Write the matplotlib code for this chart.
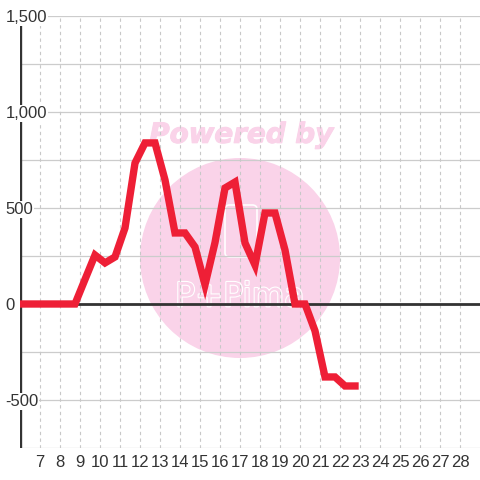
import matplotlib
matplotlib.use("Agg")
from matplotlib import pyplot as plt
from matplotlib.patches import Ellipse, FancyBboxPatch
import matplotlib.patheffects as pe

# data
days = [5.75, 6.25, 6.75, 7.25, 7.75, 8.25, 8.75, 9.25, 9.75, 10.25, 10.75,
        11.25, 11.75, 12.25, 12.75, 13.25, 13.75, 14.25, 14.75, 15.25, 15.75,
        16.25, 16.75, 17.25, 17.75, 18.25, 18.75, 19.25, 19.75, 20.25, 20.75,
        21.25, 21.75, 22.25, 22.75]
values = [0, 0, 0, 0, 0, 0, 0, 128, 255, 214, 245,
          396, 734, 839, 839, 646, 370, 370, 297, 100, 320,
          604, 635, 318, 203, 474, 474, 281, 0, 0, -140,
          -380, -380, -427, -427]
x_ticks = [7, 8, 9, 10, 11, 12, 13, 14, 15, 16, 17, 18, 19, 20, 21, 22, 23,
           24, 25, 26, 27, 28]
y_ticks = [-500, 0, 500, 1000, 1500]
y_labels = ["-500", "0", "500", "1,000", "1,500"]
y_grid = [-750, -500, -250, 0, 250, 500, 750, 1000, 1250, 1500]

plt.rcParams['font.family'] = ['Liberation Sans', 'DejaVu Sans']

fig = plt.figure(figsize=(4.8, 4.8), dpi=100)
ax = fig.add_axes([20 / 480, 32 / 480, 460 / 480, 432 / 480])
ax.set_xlim(6, 29)
ax.set_ylim(-750, 1500)
for s in ax.spines.values():
    s.set_visible(False)

# watermark
pink = '#fad3e9'
ax.add_patch(Ellipse((0.4783, 0.4398), 200 / 460, 200 / 432, transform=ax.transAxes,
                     facecolor=pink, edgecolor='none', zorder=0.5))
ax.text(0.481, 0.725, "Powered by", transform=ax.transAxes, ha='center', va='center',
        fontsize=20, fontweight='heavy', fontstyle='italic', color=pink,
        family='DejaVu Sans', zorder=0.6,
        path_effects=[pe.withStroke(linewidth=0.8, foreground=pink)])
ax.add_patch(FancyBboxPatch((205 / 460, (448 - 257) / 432), 32 / 460, 52 / 432,
                            boxstyle='round,pad=0,rounding_size=0.01',
                            transform=ax.transAxes, facecolor='none',
                            edgecolor='white', lw=1.2, zorder=0.6))
ax.text(0.478, 0.35, "P+Pima", transform=ax.transAxes, ha='center', va='center',
        fontsize=24, color=pink, family='DejaVu Sans', zorder=0.6,
        path_effects=[pe.withStroke(linewidth=1.6, foreground='white')])

# grid
for g in y_grid:
    ax.axhline(g, color='#cccccc', lw=0.9, zorder=1)
for t in x_ticks:
    ax.axvline(t, color='#c8c8c8', lw=0.8, ls=(0, (3, 3)), zorder=1)

ax.axvline(6, color='#333333', lw=2.4, zorder=2)
ax.axhline(0, color='#333333', lw=2.0, zorder=2)

ax.plot(days, values, color='#ee1f36', lw=5.3, solid_joinstyle='miter',
        solid_capstyle='projecting', zorder=3)

ax.set_xticks(x_ticks)
ax.set_xticklabels([str(t) for t in x_ticks])
ax.set_yticks(y_ticks)
ax.set_yticklabels(y_labels)
ax.tick_params(axis='both', length=0, labelsize=12, labelcolor='#333333')
ax.tick_params(axis='x', pad=5)
ax.tick_params(axis='y', pad=10.5)
for lab in ax.get_yticklabels():
    lab.set_horizontalalignment('left')
    lab.set_bbox(dict(facecolor='white', edgecolor='none', pad=0.5))
ax.yaxis.set_zorder(4)

fig.savefig("out.png", dpi=100)
